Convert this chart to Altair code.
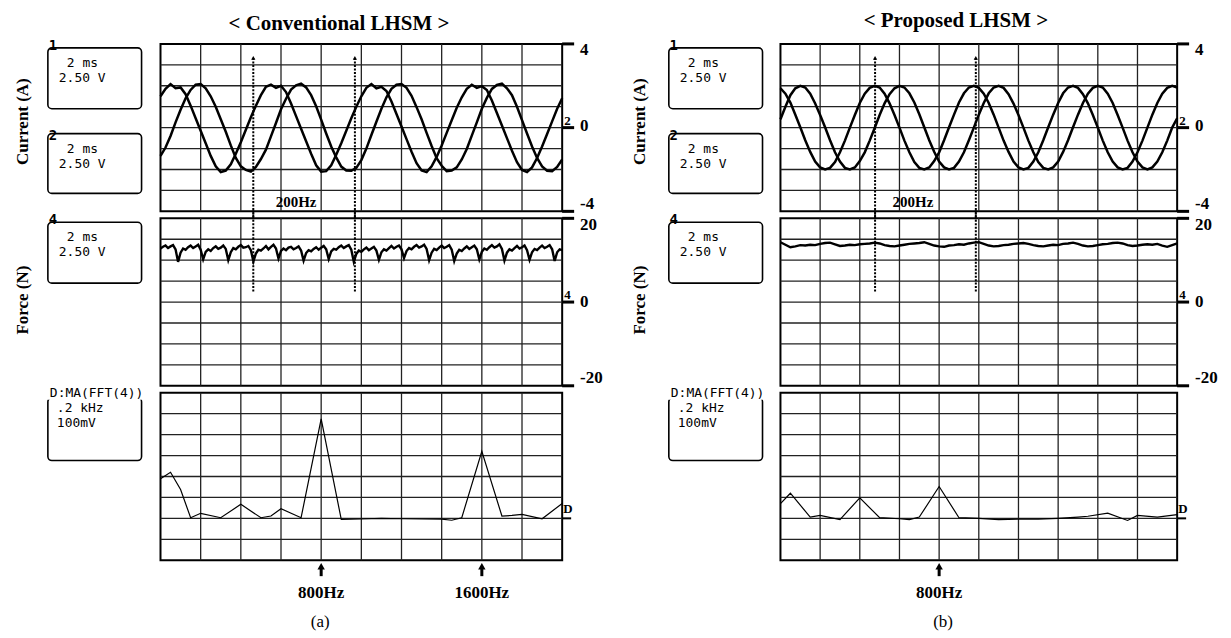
import altair as alt
import pandas as pd

# ---------------- data ----------------
# sample times (ms): 0.25 ms apart for the currents and the right force trace
t_q = [round(i * 0.25, 3) for i in range(81)]
# 0.125 ms apart for the left force trace
t_e = [round(i * 0.125, 3) for i in range(161)]

# (a) Conventional LHSM - phase currents (A)
conv_ia = [1.50, 1.85, 2.08, 1.88, 1.92, 1.60, 1.05, 0.45, -0.15, -0.75, -1.35, -1.85, -2.12, -2.05, -1.75, -1.25, -0.70, -0.10, 0.50, 1.05,
           1.55, 1.95, 2.05, 1.90, 2.00, 1.70, 1.15, 0.55, -0.05, -0.65, -1.25, -1.80, -2.10, -2.08, -1.80, -1.30, -0.75, -0.15, 0.45, 1.00,
           1.50, 1.90, 2.08, 1.88, 1.95, 1.75, 1.25, 0.65, 0.05, -0.55, -1.15, -1.70, -2.05, -2.12, -1.85, -1.40, -0.85, -0.25, 0.35, 0.95,
           1.45, 1.85, 2.05, 1.90, 1.98, 1.80, 1.30, 0.70, 0.10, -0.50, -1.10, -1.65, -2.02, -2.12, -1.90, -1.45, -0.90, -0.30, 0.30, 0.90,
           1.40]
conv_ib = [-1.35, -0.95, -0.40, 0.25, 0.85, 1.40, 1.80, 2.05, 2.08, 1.88, 1.50, 1.00, 0.40, -0.20, -0.85, -1.45, -1.85, -2.02, -2.10, -1.88,
           -1.50, -1.05, -0.42, 0.22, 0.88, 1.38, 1.82, 2.02, 2.10, 1.92, 1.55, 1.02, 0.38, -0.28, -0.90, -1.42, -1.86, -2.05, -2.06, -1.92,
           -1.55, -1.00, -0.35, 0.28, 0.90, 1.45, 1.85, 2.05, 2.08, 1.90, 1.52, 0.98, 0.40, -0.25, -0.88, -1.46, -1.82, -2.08, -2.05, -1.90,
           -1.52, -1.02, -0.38, 0.25, 0.90, 1.42, 1.85, 2.04, 2.10, 1.88, 1.55, 1.00, 0.36, -0.28, -0.90, -1.45, -1.85, -2.06, -2.08, -1.88,
           -1.52]
# (b) Proposed LHSM - phase currents (A)
prop_ia = [0.40, 1.00, 1.55, 1.88, 2.00, 1.92, 1.62, 1.15, 0.60, 0.02, -0.60, -1.18, -1.62, -1.92, -2.00, -1.90, -1.60, -1.18, -0.62, -0.02,
           0.60, 1.16, 1.60, 1.88, 2.00, 1.92, 1.64, 1.20, 0.64, 0.02, -0.60, -1.15, -1.62, -1.90, -2.00, -1.92, -1.62, -1.18, -0.60, 0.00,
           0.62, 1.18, 1.64, 1.92, 2.00, 1.90, 1.60, 1.15, 0.60, 0.00, -0.62, -1.18, -1.64, -1.92, -2.00, -1.90, -1.62, -1.16, -0.60, 0.02,
           0.62, 1.18, 1.62, 1.90, 2.00, 1.92, 1.62, 1.18, 0.60, 0.00, -0.62, -1.18, -1.62, -1.90, -2.00, -1.90, -1.62, -1.18, -0.62, 0.00,
           0.45]
prop_ib = [1.88, 1.62, 1.20, 0.62, 0.02, -0.60, -1.16, -1.62, -1.90, -2.00, -1.92, -1.64, -1.18, -0.62, 0.00, 0.60, 1.18, 1.62, 1.90, 2.00,
           1.92, 1.62, 1.16, 0.60, 0.00, -0.62, -1.18, -1.64, -1.92, -2.00, -1.90, -1.60, -1.18, -0.60, 0.02, 0.62, 1.20, 1.64, 1.92, 2.00,
           1.90, 1.62, 1.18, 0.62, 0.00, -0.62, -1.16, -1.62, -1.90, -2.00, -1.92, -1.62, -1.18, -0.60, 0.02, 0.62, 1.18, 1.64, 1.92, 2.00,
           1.90, 1.60, 1.16, 0.60, 0.00, -0.62, -1.18, -1.62, -1.90, -2.00, -1.92, -1.62, -1.18, -0.62, 0.00, 0.62, 1.18, 1.62, 1.90, 2.00,
           1.92]

# thrust force (N)
conv_force = [12.8, 13.2, 13.5, 12.9, 13.3, 13.6, 12.6,
              9.6, 11.8, 12.8, 12.5, 13.1, 13.5, 12.9, 13.3, 13.7, 12.5,
              10.2, 12.0, 12.6, 12.2, 12.9, 13.3, 12.7, 13.0, 13.5, 12.7,
              10.0, 11.9, 12.9, 12.6, 13.2, 13.6, 13.0, 13.1, 13.4, 12.4,
              9.7, 11.6, 12.5, 12.3, 12.8, 13.4, 12.6, 13.2, 13.7, 12.8,
              10.4, 12.2, 12.8, 12.4, 13.0, 13.2, 12.6, 12.9, 13.3, 12.3,
              9.9, 11.7, 12.4, 12.1, 12.7, 13.1, 12.5, 13.0, 13.4, 12.6,
              10.3, 12.1, 12.7, 12.5, 13.1, 13.5, 12.9, 13.3, 13.6, 12.5,
              9.6, 11.5, 12.3, 12.0, 12.6, 13.0, 12.4, 12.8, 13.2, 12.3,
              10.1, 11.9, 12.6, 12.3, 12.9, 13.4, 12.8, 13.2, 13.5, 12.6,
              10.5, 12.2, 12.9, 12.6, 13.2, 13.6, 13.0, 13.3, 13.7, 12.7,
              10.0, 11.8, 12.7, 12.4, 13.0, 13.5, 12.9, 13.2, 13.6, 12.5,
              9.8, 11.6, 12.5, 12.2, 12.8, 13.3, 12.7, 13.1, 13.5, 12.6,
              10.2, 12.0, 12.8, 12.5, 13.1, 13.6, 13.0, 13.3, 13.8, 12.7,
              9.9, 11.8, 12.6, 12.3, 12.9, 13.4, 12.8, 13.1, 13.5, 12.4,
              10.1, 11.9, 12.7, 12.4, 13.0, 13.5, 12.9, 13.2, 13.6, 12.6,
              9.8, 11.9, 12.6, 12.4]
prop_force = [14.3, 13.7, 13.1, 13.3, 13.6, 13.5, 13.7, 13.6, 13.9, 14.1, 14.2, 13.8, 13.4, 13.5, 13.7, 13.6, 13.8, 13.9, 14.0, 14.2,
              14.0, 13.6, 13.4, 13.3, 13.5, 13.7, 13.9, 14.0, 14.1, 14.3, 13.9, 13.5, 13.3, 13.2, 13.5, 13.6, 13.8, 13.7, 14.0, 14.2,
              14.3, 13.9, 13.5, 13.3, 13.4, 13.6, 13.7, 13.9, 14.0, 14.1, 13.9, 13.6, 13.4, 13.3, 13.5, 13.7, 13.6, 13.9, 14.0, 14.2,
              13.9, 13.5, 13.3, 13.4, 13.6, 13.8, 13.9, 14.1, 14.2, 14.0, 13.6, 13.4, 13.5, 13.7, 13.8, 13.7, 13.9, 13.5, 13.2, 13.6,
              14.0]

# FFT of the force signal: frequency (Hz) and magnitude (mV)
conv_fft_f = [0, 50, 100, 150, 200, 300, 400, 500, 550, 600, 700, 800, 900, 1000, 1100, 1200, 1300, 1400, 1450, 1500,
              1600, 1700, 1750, 1800, 1900, 2000]
conv_fft_v = [189, 220, 138, 3, 24, 3, 67, 3, 11, 46, 3, 475, -5, -3, 0, -2, -3, -4, -9, 3,
              320, 11, 14, 19, -2, 71]
prop_fft_f = [0, 50, 150, 200, 300, 400, 500, 600, 650, 700, 800, 900, 1000, 1100, 1200, 1300, 1400, 1500, 1550, 1650,
              1750, 1800, 1900, 2000]
prop_fft_v = [70, 120, 6, 14, -6, 98, 3, -2, -6, 6, 152, 3, 0, -6, -4, -4, 0, 6, 10, 25,
              -10, 14, 6, 18]

# graticule
time_grid = [2, 4, 6, 8, 10, 12, 14, 16, 18]
cur_grid = [-3, -2, -1, 0, 1, 2, 3]
force_grid = [-15, -10, -5, 0, 5, 10, 15]
freq_grid = [200, 400, 600, 800, 1000, 1200, 1400, 1600, 1800]
fft_grid = [-100, 0, 100, 200, 300, 400, 500]

cur_ticks, cur_labels = [4, 0, -4], ["4", "0", "-4"]
force_ticks, force_labels = [20, 0, -20], ["20", "0", "-20"]

# ---------------- style ----------------
SERIF = "Liberation Serif"
MONO = "DejaVu Sans Mono"
INK = "#000000"
GRID_C = "#222222"
H = 168
WL, WR = 403, 398
TD, CD, FD, SD, SVD = [0, 20], [-4, 4], [-20, 20], [0, 2000], [-200, 600]


def sc(dom):
    return alt.Scale(domain=dom, nice=False, zero=False)


def X(field, dom):
    return alt.X(f"{field}:Q", scale=sc(dom), axis=None)


def Y(field, dom):
    return alt.Y(f"{field}:Q", scale=sc(dom), axis=None)


def one(**kw):
    if not kw:
        kw = {"k": 0}
    return pd.DataFrame({k: [v] for k, v in kw.items()})


def grid(xs, ys, xdom, ydom):
    return [
        alt.Chart(pd.DataFrame({"g": xs})).mark_rule(color=GRID_C, strokeWidth=1.3).encode(x=X("g", xdom)),
        alt.Chart(pd.DataFrame({"g": ys})).mark_rule(color=GRID_C, strokeWidth=1.3).encode(y=Y("g", ydom)),
    ]


def text(s, x, y, size=13, font=MONO, weight="normal", align="left", angle=None):
    kw = dict(font=font, fontSize=size, fontWeight=weight, align=align, baseline="middle", color=INK)
    if angle is not None:
        kw["angle"] = angle
    return alt.Chart(one(s=s)).mark_text(**kw).encode(x=alt.value(x), y=alt.value(y), text="s:N")


def box(x1, x2, y1, y2):
    return alt.Chart(one()).mark_rect(filled=False, color=INK, strokeWidth=1.6, cornerRadius=4).encode(
        x=alt.value(x1), x2=alt.value(x2), y=alt.value(y1), y2=alt.value(y2))


def white(x1, x2, y1, y2):
    return alt.Chart(one()).mark_rect(color="white").encode(
        x=alt.value(x1), x2=alt.value(x2), y=alt.value(y1), y2=alt.value(y2))


def right_scale(width, ydom, vals, labels, dys, marker):
    layers = [alt.Chart(pd.DataFrame({"v": vals})).mark_rule(color=INK, strokeWidth=3).encode(
        x=alt.value(width), x2=alt.value(width + 12), y=Y("v", ydom))]
    for v, lab, dy in zip(vals, labels, dys):
        layers.append(alt.Chart(one(v=v, s=lab)).mark_text(
            font=SERIF, fontWeight="bold", fontSize=17, align="left", baseline="middle", dy=dy, color=INK
        ).encode(x=alt.value(width + 18), y=Y("v", ydom), text="s:N"))
    layers.append(alt.Chart(one(v=0, s=marker)).mark_text(
        font=SERIF, fontWeight="bold", fontSize=13, align="left", baseline="middle", dy=-7, color=INK
    ).encode(x=alt.value(width + 2), y=Y("v", ydom), text="s:N"))
    return layers


def scope_box(dx, top_marker):
    return [
        box(dx - 113, dx - 19, 4, 65),
        text("2 ms", dx - 94, 19),
        text("2.50 V", dx - 102, 34),
        text(top_marker, dx - 108, 2, size=14, weight="bold", align="center"),
    ]


def current_panel(width, ia, ib, title, tx, ty, arrow_t, hz_t, dx, ylx):
    layers = grid(time_grid, cur_grid, TD, CD)
    df = pd.DataFrame({"t": t_q + t_q, "v": ia + ib, "s": ["a"] * len(t_q) + ["b"] * len(t_q)})
    layers.append(alt.Chart(df).mark_line(color=INK, strokeWidth=2.5).encode(
        x=X("t", TD), y=Y("v", CD), detail="s:N"))
    ad = pd.DataFrame({"t": arrow_t, "top": [3.33, 3.33]})
    layers.append(alt.Chart(ad).mark_rule(color=INK, strokeWidth=2, strokeDash=[2, 1.5]).encode(
        x=X("t", TD), y=Y("top", CD), y2=alt.value(H + 8)))
    layers.append(alt.Chart(ad).mark_point(shape="triangle-up", filled=True, size=18, color=INK, opacity=1).encode(
        x=X("t", TD), y=Y("top", CD)))
    layers.append(alt.Chart(one(t=hz_t, v=-3.57, s="200Hz")).mark_text(
        font=SERIF, fontWeight="bold", fontSize=15, color=INK, baseline="middle").encode(
        x=X("t", TD), y=Y("v", CD), text="s:N"))
    layers += right_scale(width, CD, cur_ticks, cur_labels, [6, -2, -7], "2")
    layers += scope_box(dx, "1")
    layers += [
        box(dx - 113, dx - 19, 90, 150),
        text("2 ms", dx - 94, 105),
        text("2.50 V", dx - 102, 120),
        text("2", dx - 108, 92, size=14, weight="bold", align="center"),
        text("Current (A)", ylx, 78, size=17, font=SERIF, weight="bold", align="center", angle=270),
        text(title, tx, ty, size=21, font=SERIF, weight="bold", align="center"),
    ]
    return alt.layer(*layers).properties(width=width, height=H)


def force_panel(width, tvals, fvals, arrow_t, dx, ylx):
    layers = grid(time_grid, force_grid, TD, FD)
    df = pd.DataFrame({"t": tvals, "v": fvals})
    layers.append(alt.Chart(df).mark_line(color=INK, strokeWidth=2.4).encode(x=X("t", TD), y=Y("v", FD)))
    ad = pd.DataFrame({"t": arrow_t, "lo": [2.5, 2.5]})
    layers.append(alt.Chart(ad).mark_rule(color=INK, strokeWidth=2, strokeDash=[2, 1.5]).encode(
        x=X("t", TD), y=Y("lo", FD), y2=alt.value(-8)))
    layers += right_scale(width, FD, force_ticks, force_labels, [7, 0, -8], "4")
    layers += scope_box(dx, "4")
    layers.append(text("Force (N)", ylx, 82, size=17, font=SERIF, weight="bold", align="center", angle=270))
    return alt.layer(*layers).properties(width=width, height=H)


def fft_panel(width, fs, vs, marks, tag, tag_f, dx):
    layers = grid(freq_grid, fft_grid, SD, SVD)
    df = pd.DataFrame({"f": fs, "v": vs})
    layers.append(alt.Chart(df).mark_line(color=INK, strokeWidth=1.2).encode(x=X("f", SD), y=Y("v", SVD)))
    layers.append(alt.Chart(one(v=0)).mark_rule(color=INK, strokeWidth=2).encode(
        x=alt.value(width), x2=alt.value(width + 9), y=Y("v", SVD)))
    layers.append(alt.Chart(one(v=0, s="D")).mark_text(
        font=SERIF, fontWeight="bold", fontSize=13, align="left", baseline="middle", dy=-9, color=INK
    ).encode(x=alt.value(width + 1), y=Y("v", SVD), text="s:N"))
    md = pd.DataFrame({"f": [m[0] for m in marks], "s": [m[1] for m in marks]})
    layers.append(alt.Chart(md).mark_rule(color=INK, strokeWidth=3).encode(
        x=X("f", SD), y=alt.value(H + 7), y2=alt.value(H + 16)))
    layers.append(alt.Chart(md).mark_point(shape="triangle-up", filled=True, size=55, color=INK, opacity=1).encode(
        x=X("f", SD), y=alt.value(H + 6)))
    layers.append(alt.Chart(md).mark_text(font=SERIF, fontWeight="bold", fontSize=17, baseline="middle", color=INK).encode(
        x=X("f", SD), y=alt.value(H + 33), text="s:N"))
    layers.append(alt.Chart(one(f=tag_f, s=tag)).mark_text(font=SERIF, fontSize=17, baseline="middle", color=INK).encode(
        x=X("f", SD), y=alt.value(H + 62), text="s:N"))
    layers += [
        box(dx - 113, dx - 19, 5, 68),
        white(dx - 115, dx - 8, -7, 7),
        text("D:MA(FFT(4))", dx - 111, 0),
        text(".2 kHz", dx - 104, 15),
        text("100mV", dx - 104, 30),
    ]
    return alt.layer(*layers).properties(width=width, height=H)


curL = current_panel(WL, conv_ia, conv_ib, "< Conventional LHSM >", 179, -20, [4.62, 9.68], 6.75, 0, -138)
curR = current_panel(WR, prop_ia, prop_ib, "< Proposed LHSM >", 176, -23, [4.77, 9.85], 6.68, 1, -141)
forceL = force_panel(WL, t_e, conv_force, [4.62, 9.68], 0, -138)
forceR = force_panel(WR, t_q, prop_force, [4.77, 9.85], 1, -141)
fftL = fft_panel(WL, conv_fft_f, conv_fft_v, [(800, "800Hz"), (1600, "1600Hz")], "(a)", 795, 0)
fftR = fft_panel(WR, prop_fft_f, prop_fft_v, [(800, "800Hz")], "(b)", 820, 1)

chart = alt.concat(
    curL, curR, forceL, forceR, fftL, fftR,
    columns=2, spacing={"row": 7, "column": 219}, bounds="flush"
).properties(
    padding={"left": 5, "top": 0, "right": 4, "bottom": 0}, background="white"
).configure_view(stroke=INK, strokeWidth=2)

chart.save("out.html", embed_options={"renderer": "svg", "actions": False})
